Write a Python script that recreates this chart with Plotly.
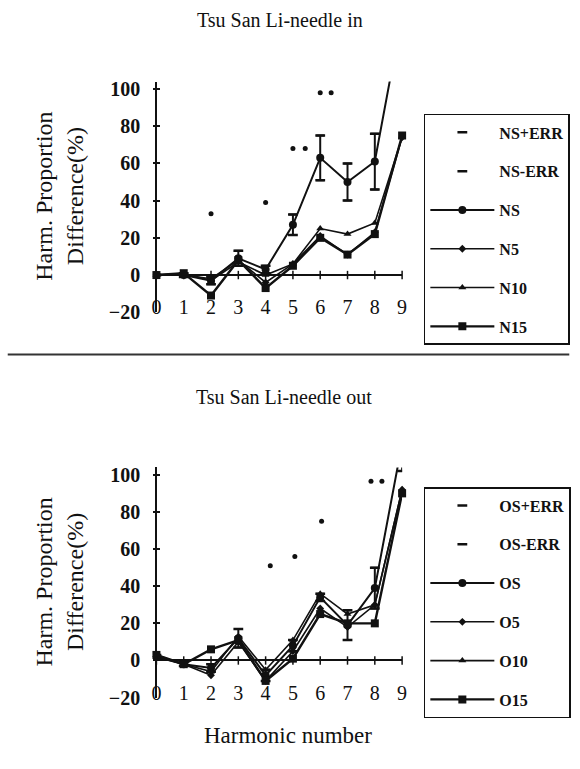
import plotly.graph_objects as go

harmonics = [0, 1, 2, 3, 4, 5, 6, 7, 8, 9]
x_ticks = [0, 1, 2, 3, 4, 5, 6, 7, 8, 9]
y_ticks = [-20, 0, 20, 40, 60, 80, 100]

# Tsu San Li - needle in
ns = [0, 0, -3, 9, 3, 27, 63, 50, 61, 140]
ns_err = [0, 1, 2, 4, 2, 5.5, 12, 10, 15, 20]
n5 = [0, 0, -2, 8, -4, 6, 21, 11, 23, 74]
n10 = [0, 1, -3, 7, 0, 6, 25, 22, 28, 74]
n15 = [0, 1, -11, 8, -7, 5, 20, 11, 22, 75]
sig_in_x = [2, 4, 5, 5.45, 6, 6.4, 8.05, 9.1]
sig_in_y = [33, 39, 68, 68, 98, 98, 108, 127]

# Tsu San Li - needle out
os_ = [2, -2, -4, 12, -8, 8, 34, 19, 39, 117]
os_err = [1, 1, 2, 5, 3, 3, 2, 8, 11, 15]
o5 = [2, -2, -8, 10, -11, 5, 28, 18, 30, 92]
o10 = [3, -2, -6, 13, -5, 11, 36, 25, 30, 92]
o15 = [3, -2, 6, 11, -11, 1, 25, 20, 20, 90]
sig_out_x = [4.17, 5.07, 6.05, 7.86, 8.26, 9.1]
sig_out_y = [51, 56, 75, 96.5, 96.5, 108]

W, H = 580, 769
SERIF = "Liberation Serif"
BLACK = "#111111"

fig = go.Figure()


def add_panel(xa, ya, leg, prefix, main, err, s5, s10, s15, sx, sy):
    names = [prefix + "S+ERR", prefix + "S-ERR", prefix + "S", prefix + "5", prefix + "10", prefix + "15"]
    hi = [v + e for v, e in zip(main, err)]
    lo = [v - e for v, e in zip(main, err)]
    common = dict(xaxis=xa, yaxis=ya, legend=leg)
    fig.add_trace(go.Scatter(x=harmonics, y=hi, mode="markers", name=names[0], legendgroup=names[0],
                             marker=dict(symbol="line-ew", size=7, line=dict(width=2.5, color=BLACK)), **common))
    fig.add_trace(go.Scatter(x=harmonics, y=lo, mode="markers", name=names[1], legendgroup=names[1],
                             marker=dict(symbol="line-ew", size=7, line=dict(width=2.5, color=BLACK)), **common))
    fig.add_trace(go.Scatter(x=harmonics, y=main, mode="lines+markers", name=names[2], legendgroup=names[2],
                             line=dict(color=BLACK, width=2),
                             marker=dict(symbol="circle", size=8, color=BLACK),
                             error_y=dict(type="data", array=err, color=BLACK, thickness=2, width=4),
                             **common))
    fig.add_trace(go.Scatter(x=harmonics, y=s5, mode="lines+markers", name=names[3], legendgroup=names[3],
                             line=dict(color=BLACK, width=1.6), cliponaxis=False,
                             marker=dict(symbol="diamond", size=6, color=BLACK), **common))
    fig.add_trace(go.Scatter(x=harmonics, y=s10, mode="lines+markers", name=names[4], legendgroup=names[4],
                             line=dict(color=BLACK, width=1.6), cliponaxis=False,
                             marker=dict(symbol="triangle-up", size=7, color=BLACK), **common))
    fig.add_trace(go.Scatter(x=harmonics, y=s15, mode="lines+markers", name=names[5], legendgroup=names[5],
                             line=dict(color=BLACK, width=2.4), cliponaxis=False,
                             marker=dict(symbol="square", size=8, color=BLACK), **common))
    # tick marks along the x axis line
    fig.add_trace(go.Scatter(x=x_ticks, y=[0] * len(x_ticks), mode="markers", showlegend=False,
                             hoverinfo="skip", cliponaxis=False, xaxis=xa, yaxis=ya,
                             marker=dict(symbol="line-ns", size=6, line=dict(width=1.5, color=BLACK))))
    # significance dots
    fig.add_trace(go.Scatter(x=sx, y=sy, mode="markers", showlegend=False, hoverinfo="skip",
                             cliponaxis=False, xaxis=xa, yaxis=ya,
                             marker=dict(symbol="circle", size=5, color=BLACK)))


add_panel("x", "y", "legend", "N", ns, ns_err, n5, n10, n15, sig_in_x, sig_in_y)
add_panel("x2", "y2", "legend2", "O", os_, os_err, o5, o10, o15, sig_out_x, sig_out_y)


def px_x(p):
    return p / W


def px_y(p):
    return (H - p) / H


x_dom = [px_x(153), px_x(405)]
xax = dict(range=[-0.12, 9], showline=False, showgrid=False, zeroline=True, zerolinecolor=BLACK,
           zerolinewidth=2, tickvals=x_ticks, ticks="", ticklabelposition="outside",
           ticklabelstandoff=-19,
           tickfont=dict(family=SERIF, size=20, color=BLACK), domain=x_dom)
yax = dict(range=[-20, 104], showline=False, showgrid=False, zeroline=True, zerolinecolor=BLACK,
           zerolinewidth=2, tickvals=y_ticks, ticks="inside", ticklen=7, tickwidth=1.5, tickcolor=BLACK,
           ticklabelstandoff=12,
           tickfont=dict(family=SERIF, size=20, color=BLACK, weight="bold"))

legend_common = dict(xanchor="left", yanchor="top", bordercolor=BLACK, borderwidth=1.5,
                     bgcolor="white", font=dict(family=SERIF, size=16, color=BLACK, weight="bold"),
                     traceorder="grouped", tracegroupgap=15, itemwidth=64)

fig.update_layout(
    width=W, height=H,
    margin=dict(l=0, r=0, t=0, b=0),
    paper_bgcolor="white", plot_bgcolor="white",
    xaxis=dict(xax, anchor="y"),
    yaxis=dict(yax, anchor="x", domain=[px_y(315), px_y(80)]),
    xaxis2=dict(xax, anchor="y2"),
    yaxis2=dict(yax, anchor="x2", domain=[px_y(707.5), px_y(473)]),
    legend=dict(legend_common, x=px_x(427), y=px_y(113)),
    legend2=dict(legend_common, x=px_x(427), y=px_y(493)),
    showlegend=True,
    annotations=[
        dict(text="Tsu San Li-needle in", x=px_x(281), y=px_y(17), xref="paper", yref="paper",
             xanchor="center", yanchor="middle",
             showarrow=False, font=dict(family=SERIF, size=20, color=BLACK)),
        dict(text="Tsu San Li-needle out", x=px_x(285), y=px_y(401), xref="paper", yref="paper",
             xanchor="center", yanchor="middle",
             showarrow=False, font=dict(family=SERIF, size=20, color=BLACK)),
        dict(text="Harm. Proportion<br>Difference(%)", x=px_x(58), y=px_y(197), xref="paper", yref="paper",
             xanchor="center", yanchor="middle",
             textangle=-90, showarrow=False, font=dict(family=SERIF, size=24, color=BLACK)),
        dict(text="Harm. Proportion<br>Difference(%)", x=px_x(58), y=px_y(590), xref="paper", yref="paper",
             xanchor="center", yanchor="middle",
             textangle=-90, showarrow=False, font=dict(family=SERIF, size=24, color=BLACK)),
        dict(text="Harmonic number", x=px_x(289), y=px_y(746), xref="paper", yref="paper",
             xanchor="center", yanchor="middle",
             showarrow=False, font=dict(family=SERIF, size=23, color=BLACK)),
    ],
    shapes=[
        dict(type="line", xref="paper", yref="paper", x0=0.01, x1=0.99, y0=px_y(358), y1=px_y(358),
             line=dict(color="#333333", width=2)),
    ],
)

fig.write_html("out.html")
